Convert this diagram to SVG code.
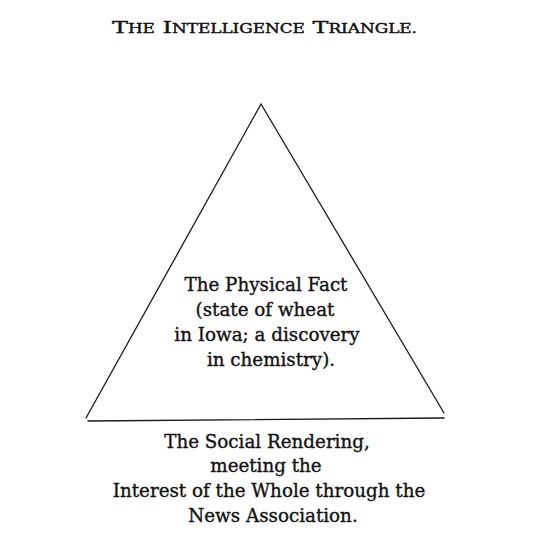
<svg xmlns="http://www.w3.org/2000/svg" width="545" height="545" viewBox="0 0 545 545">
<style>
.t{font-family:"DejaVu Serif","Liberation Serif",serif;fill:#111;stroke:#111;stroke-width:0.35;text-anchor:middle;font-size:18.3px}
.ln{fill:none;stroke:#1a1a1a;stroke-width:1.3;stroke-linecap:round;stroke-linejoin:miter}
.title{font-family:"DejaVu Serif","Liberation Serif",serif;fill:#111;stroke:#111;stroke-width:0.4}
</style>
<rect width="545" height="545" fill="#fff"/>
<g id="title">
<text class="title" x="112" y="33" textLength="305" lengthAdjust="spacingAndGlyphs"><tspan font-size="17">T</tspan><tspan font-size="12">HE</tspan><tspan font-size="17"> I</tspan><tspan font-size="12">NTELLIGENCE</tspan><tspan font-size="17"> T</tspan><tspan font-size="12">RIANGLE.</tspan></text>
</g>
<g id="triangle">
<polyline class="ln" points="86,418 261,104 444,413"/>
<text class="t" x="266" y="291">The Physical Fact</text>
<text class="t" x="265" y="316">(state of wheat</text>
<text class="t" x="267" y="341">in Iowa; a discovery</text>
<text class="t" x="271" y="366">in chemistry).</text>
</g>
<g id="connectors">
<line class="ln" x1="88" y1="421" x2="444" y2="418"/>
</g>
<g id="base">
<text class="t" x="267" y="448">The Social Rendering,</text>
<text class="t" x="266" y="472">meeting the</text>
<text class="t" x="269" y="497">Interest of the Whole through the</text>
<text class="t" x="273" y="522">News Association.</text>
</g>
</svg>
